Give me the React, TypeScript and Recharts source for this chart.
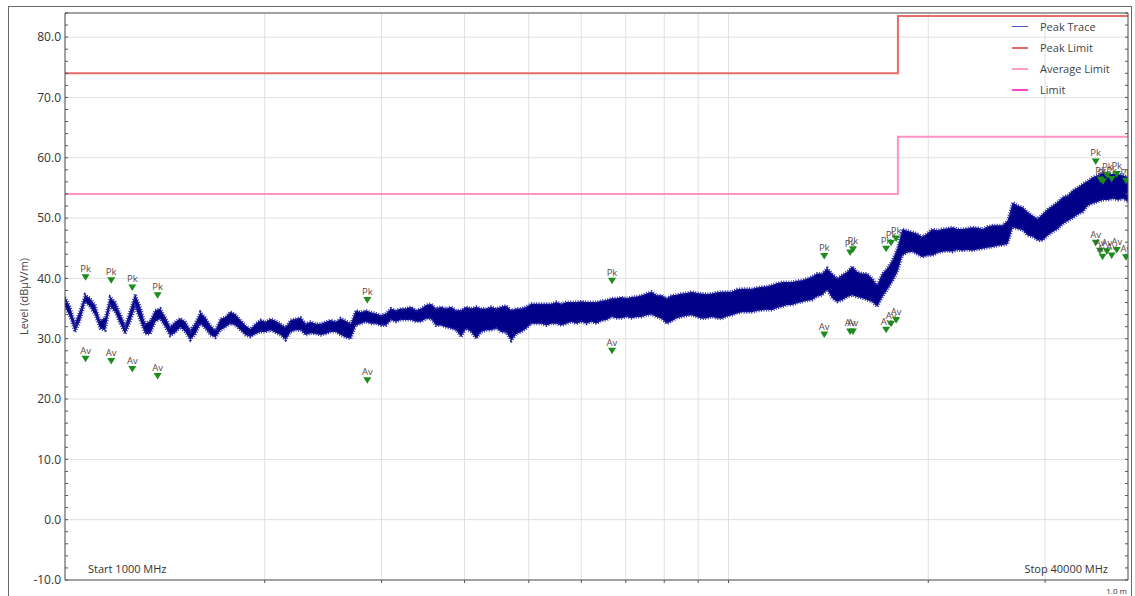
import { ComposedChart, Area, Line, Scatter, XAxis, YAxis, CartesianGrid } from 'recharts'

// sweep 1 GHz .. 40 GHz, log axis
const START_MHZ = 1000
const STOP_MHZ = 40000

// peak trace envelope at evenly spaced sweep points
const TRACE_HI = [
  36.9, 35.3, 32.6, 34.7, 37.3, 36.7, 35.6, 33.0, 33.5, 36.9,
  36.1, 34.2, 32.2, 34.7, 37.4, 35.3, 32.5, 33.0, 34.7, 35.0,
  33.6, 32.0, 32.8, 33.4, 32.8, 31.4, 32.6, 34.4, 33.5, 32.2,
  31.4, 33.3, 33.6, 34.5, 34.0, 33.1, 32.2, 31.6, 32.5, 33.1,
  32.8, 33.3, 33.0, 32.5, 31.9, 33.1, 33.3, 33.5, 32.5, 32.8,
  32.5, 32.5, 32.8, 33.1, 32.8, 33.4, 33.0, 32.5, 34.7, 34.4,
  34.7, 34.4, 34.2, 33.9, 34.2, 35.0, 34.7, 35.0, 35.0, 35.3,
  34.7, 35.0, 35.6, 35.8, 35.0, 35.3, 35.0, 35.3, 34.7, 34.7,
  35.3, 35.0, 35.3, 35.0, 35.0, 35.3, 35.0, 35.3, 35.5, 34.7,
  35.0, 35.0, 35.3, 35.8, 35.8, 35.8, 35.8, 35.8, 36.1, 35.8,
  36.1, 36.1, 36.1, 36.2, 36.1, 36.1, 36.1, 36.3, 36.4, 36.7,
  36.7, 36.9, 36.7, 36.9, 37.0, 37.2, 37.5, 37.8, 37.2, 37.2,
  36.7, 37.2, 37.3, 37.5, 37.6, 37.8, 37.6, 37.5, 37.4, 37.5,
  37.7, 37.8, 37.8, 37.8, 38.2, 38.3, 38.3, 38.3, 38.5, 38.6,
  38.7, 38.9, 39.2, 39.4, 39.4, 39.4, 39.6, 39.7, 40.0, 40.3,
  40.8, 40.8, 41.7, 40.8, 40.0, 40.6, 41.1, 42.0, 41.1, 40.8,
  40.8, 40.0, 38.9, 40.8, 41.7, 43.0, 45.0, 48.2, 47.9, 47.7,
  47.4, 46.9, 47.5, 48.2, 48.0, 48.2, 48.3, 48.5, 48.2, 48.2,
  48.3, 48.5, 48.4, 48.2, 48.6, 48.8, 48.8, 48.8, 49.6, 52.6,
  52.1, 51.8, 51.0, 50.4, 49.9, 50.7, 51.5, 52.1, 52.7, 53.5,
  53.8, 54.6, 55.1, 55.7, 56.2, 56.8, 57.1, 57.6, 57.3, 57.3,
  57.3, 57.1, 56.8,
]
const TRACE_LO = [
  35.3, 33.6, 31.1, 33.0, 36.1, 35.3, 33.9, 31.7, 31.4, 35.4,
  34.4, 32.5, 30.8, 32.8, 35.3, 33.0, 30.8, 30.8, 32.8, 33.3,
  31.9, 30.5, 31.0, 31.9, 31.1, 29.8, 30.8, 32.5, 31.7, 30.6,
  30.2, 31.4, 31.9, 32.5, 32.2, 31.4, 30.6, 30.3, 30.8, 31.1,
  31.1, 31.4, 31.0, 30.6, 29.8, 31.1, 31.4, 31.4, 30.6, 30.9,
  30.8, 30.6, 30.8, 31.1, 31.1, 30.6, 30.2, 30.0, 32.2, 32.5,
  32.8, 32.5, 32.5, 32.2, 32.2, 33.1, 32.8, 33.1, 33.1, 33.1,
  32.8, 32.8, 33.3, 33.3, 32.2, 32.2, 31.9, 31.7, 31.4, 30.3,
  31.7, 31.1, 30.0, 31.1, 31.4, 31.4, 31.7, 31.1, 31.0, 29.7,
  30.8, 31.1, 31.7, 32.5, 32.5, 32.5, 32.2, 32.5, 32.5, 32.2,
  32.5, 32.8, 32.5, 32.8, 32.5, 32.8, 32.5, 33.0, 33.1, 33.6,
  33.4, 33.4, 33.6, 33.4, 33.6, 33.6, 33.9, 34.0, 33.6, 33.3,
  32.5, 32.9, 33.4, 33.6, 33.8, 33.9, 33.6, 33.3, 33.4, 33.6,
  33.4, 33.3, 33.7, 33.9, 34.2, 34.4, 34.4, 34.4, 34.6, 34.7,
  34.8, 34.7, 35.1, 35.3, 35.6, 35.6, 35.9, 36.1, 36.3, 36.4,
  37.0, 37.2, 38.1, 36.7, 36.1, 36.4, 36.9, 37.2, 36.9, 36.7,
  36.4, 36.1, 35.3, 36.9, 38.1, 39.5, 41.0, 43.8, 44.3, 44.4,
  44.0, 43.5, 43.8, 43.8, 44.2, 44.4, 44.5, 44.4, 44.7, 44.6,
  44.7, 44.6, 44.8, 44.9, 45.1, 45.2, 45.4, 45.5, 45.7, 48.5,
  48.2, 48.0, 47.1, 46.9, 46.3, 46.3, 47.1, 47.7, 48.2, 49.0,
  49.5, 50.0, 50.6, 51.0, 52.1, 52.4, 52.7, 53.0, 53.0, 53.2,
  53.0, 53.2, 52.7,
]

// final measurement markers
const PK_FREQS = [1074, 1174, 1263, 1379, 2855, 6674, 13940, 15250, 15400, 17280, 17580, 17890, 35760, 36370, 36680, 37230, 37800, 38470, 39720]
const PK_LEVELS = [40.2, 39.7, 38.5, 37.2, 36.4, 39.6, 43.7, 44.3, 44.8, 44.9, 45.9, 46.6, 59.4, 56.4, 56.1, 57.1, 56.5, 57.3, 56.2]
const AV_FREQS = [1074, 1174, 1263, 1379, 2855, 6674, 13940, 15250, 15400, 17280, 17580, 17890, 35760, 36300, 36620, 37180, 37800, 38470, 39720]
const AV_LEVELS = [26.7, 26.3, 25.0, 23.8, 23.1, 28.0, 30.7, 31.2, 31.2, 31.5, 32.5, 33.1, 45.9, 44.6, 43.6, 44.5, 43.8, 44.7, 43.5]

// limit lines (step at 18 GHz)
const LIMIT_FREQS = [1000, 18000, 18000, 40000]
const PEAK_LIMIT = [74, 74, 83.5, 83.5]
const AVG_LIMIT = [54, 54, 63.5, 63.5]

const X_TICKS = [2000, 3000, 4000, 5000, 6000, 7000, 8000, 9000, 10000, 20000, 30000]
const Y_TICKS = [-10, 0, 10, 20, 30, 40, 50, 60, 70, 80]
const Y_MINOR = Array.from({ length: 48 }, (_, i) => -10 + i * 2)
const Y_DOMAIN: [number, number] = [-10, 84]

const LEGEND = [
  { name: 'Peak Trace', color: '#5252c4', width: 1.5 },
  { name: 'Peak Limit', color: '#e86c6c', width: 2 },
  { name: 'Average Limit', color: '#ff9cc6', width: 2 },
  { name: 'Limit', color: '#ff44cc', width: 2 },
]

const traceRows = TRACE_HI.map((hi, i) => ({
  f: START_MHZ * Math.pow(STOP_MHZ / START_MHZ, i / (TRACE_HI.length - 1)),
  band: [TRACE_LO[i], hi],
}))
const peakLimitRows = LIMIT_FREQS.map((f, i) => ({ f, v: PEAK_LIMIT[i] }))
const avgLimitRows = LIMIT_FREQS.map((f, i) => ({ f, v: AVG_LIMIT[i] }))
const pkRows = PK_FREQS.map((f, i) => ({ f, v: PK_LEVELS[i] }))
const avRows = AV_FREQS.map((f, i) => ({ f, v: AV_LEVELS[i] }))

function Marker({ cx, cy, tag }: { cx?: number; cy?: number; tag: string }) {
  if (cx == null || cy == null) return null
  return (
    <g>
      <text x={cx} y={cy - 5} textAnchor="middle" fontSize={9.5} fill="#5a4848">{tag}</text>
      <path d={`M${cx - 4},${cy - 3} L${cx + 4},${cy - 3} L${cx},${cy + 3.5} Z`} fill="#1c8c1c" />
    </g>
  )
}

const noLabel = () => ''

export default function App() {
  return (
    <div style={{ position: 'relative', width: 1135, height: 596, overflow: 'hidden', background: '#fff', fontFamily: "'Open Sans', 'Noto Sans', sans-serif" }}>
      <style>{'body{margin:0}'}</style>
      <div style={{ position: 'absolute', left: 8, top: 6, width: 1124, height: 620, border: '1px solid #6a6a6a', boxSizing: 'border-box' }} />
      <ComposedChart width={1135} height={596} data={traceRows} margin={{ top: 13, right: 7, left: 0, bottom: 0 }}>
        <CartesianGrid
          horizontal={{ stroke: '#e8e8e8', strokeWidth: 2 }}
          vertical={{ stroke: '#d6d6d6', strokeWidth: 1 }}
          stroke="#e0e0e0"
        />
        <XAxis
          dataKey="f"
          type="number"
          scale="log"
          domain={[START_MHZ, STOP_MHZ]}
          allowDataOverflow
          ticks={X_TICKS}
          tickFormatter={noLabel}
          tickSize={3}
          height={16}
          stroke="#555"
        />
        <XAxis
          xAxisId="top"
          orientation="top"
          mirror
          type="number"
          scale="log"
          domain={[START_MHZ, STOP_MHZ]}
          allowDataOverflow
          ticks={X_TICKS}
          tickFormatter={noLabel}
          tickSize={3}
          stroke="#555"
        />
        <YAxis
          domain={Y_DOMAIN}
          allowDataOverflow
          ticks={Y_TICKS}
          tickFormatter={v => v.toFixed(1)}
          tick={{ fontSize: 12, fill: '#333' }}
          tickLine={false}
          tickSize={0}
          tickMargin={4}
          width={65}
          stroke="#555"
          label={{ value: 'Level (dBµV/m)', angle: -90, position: 'center', dx: -8, fontSize: 11, fill: '#444' }}
        />
        <YAxis
          yAxisId="minorL"
          mirror
          domain={Y_DOMAIN}
          allowDataOverflow
          ticks={Y_MINOR}
          tickFormatter={noLabel}
          tickSize={3}
          axisLine={false}
          stroke="#555"
        />
        <YAxis
          yAxisId="minorR"
          orientation="right"
          mirror
          domain={Y_DOMAIN}
          allowDataOverflow
          ticks={Y_MINOR}
          tickFormatter={noLabel}
          tickSize={3}
          stroke="#555"
        />
        <Line data={peakLimitRows} dataKey="v" type="linear" stroke="#e86c6c" strokeWidth={2} dot={false} isAnimationActive={false} />
        <Line data={avgLimitRows} dataKey="v" type="linear" stroke="#ff92c2" strokeWidth={2} dot={false} isAnimationActive={false} />
        {/* dense sweep: solid core plus a broken stroke so the edge reads as noise */}
        <Area
          dataKey="band"
          type="linear"
          fill="#000088"
          fillOpacity={1}
          stroke="#2b2ba4"
          strokeWidth={3}
          strokeDasharray="1 1.5"
          isAnimationActive={false}
        />
        <Scatter data={pkRows} dataKey="v" shape={(p: any) => <Marker cx={p.cx} cy={p.cy} tag="Pk" />} isAnimationActive={false} />
        <Scatter data={avRows} dataKey="v" shape={(p: any) => <Marker cx={p.cx} cy={p.cy} tag="Av" />} isAnimationActive={false} />
      </ComposedChart>

      <div style={{ position: 'absolute', left: 1012, top: 16, fontSize: 11, color: '#444' }}>
        {LEGEND.map(item => (
          <div key={item.name} style={{ display: 'flex', alignItems: 'center', height: 21 }}>
            <span style={{ display: 'inline-block', width: 16, height: item.width, background: item.color, marginRight: 12 }} />
            <span>{item.name}</span>
          </div>
        ))}
      </div>
      <div style={{ position: 'absolute', left: 88, top: 561, fontSize: 11, color: '#333' }}>Start 1000 MHz</div>
      <div style={{ position: 'absolute', right: 27, top: 561, fontSize: 11, color: '#333' }}>Stop 40000 MHz</div>
      <div style={{ position: 'absolute', right: 8, top: 585, fontSize: 8, color: '#333' }}>1.0 m</div>
    </div>
  )
}
